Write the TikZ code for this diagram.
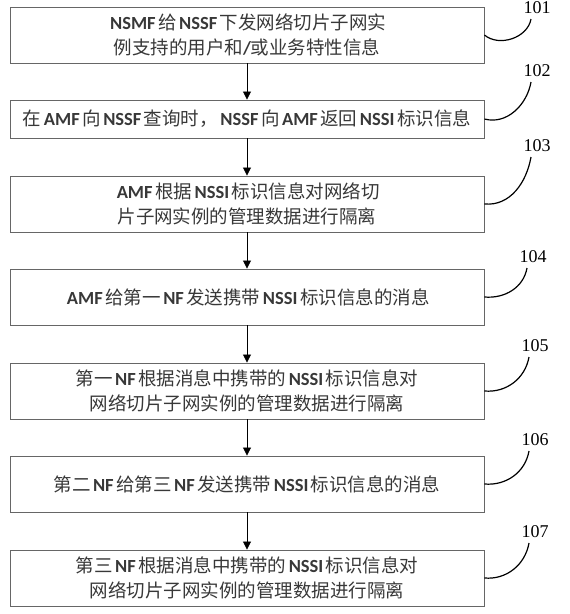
\documentclass[tikz,border=0pt]{standalone}
\usepackage{fontspec}
\setmainfont{Noto Sans CJK SC}
\newfontfamily\latinfont{Carlito}
\newfontfamily\numfont{Liberation Serif}
\usetikzlibrary{arrows.meta}
\newcommand{\en}[1]{\kern2.5pt{\latinfont\bfseries #1}\kern2.5pt}

\begin{document}
\begin{tikzpicture}[x=1pt, y=-1pt,
    blk/.style={draw=black!60, line width=0.9pt, minimum width=474pt,
      minimum height=56pt, inner sep=0pt, align=center, text=black!78,
      font=\fontsize{18.5}{25}\selectfont},
    num/.style={inner sep=0pt, anchor=south, font=\numfont\fontsize{18}{18}\selectfont},
    flow/.style={-{Triangle[width=8pt,length=8pt]}, line width=0.8pt},
    leader/.style={line width=1.2pt}]
    \useasboundingbox (0,0) rectangle (570,614);

    \node[blk] (s1) at (247,35) {\en{NSMF}给\en{NSSF}下发网络切片子网实\\
      例支持的用户和{\latinfont\bfseries/}或业务特性信息};
    \node[blk, minimum height=38pt] (s2) at (247,119)
      {在\en{AMF}向\en{NSSF}查询时，\en{NSSF}向\en{AMF}返回\en{NSSI}标识信息};
    \node[blk] (s3) at (247,204) {\en{AMF}根据\en{NSSI}标识信息对网络切\\
      片子网实例的管理数据进行隔离};
    \node[blk] (s4) at (247,297) {\en{AMF}给第一\en{NF}发送携带\en{NSSI}标识信息的消息};
    \node[blk] (s5) at (247,391) {第一\en{NF}根据消息中携带的\en{NSSI}标识信息对\\
      网络切片子网实例的管理数据进行隔离};
    \node[blk] (s6) at (247,484) {第二\en{NF}给第三\en{NF}发送携带\en{NSSI}标识信息的消息};
    \node[blk] (s7) at (247,578) {第三\en{NF}根据消息中携带的\en{NSSI}标识信息对\\
      网络切片子网实例的管理数据进行隔离};

    \foreach \a/\b in {1/2,2/3,3/4,4/5,5/6,6/7}
      \draw[flow] (s\a) -- (s\b);

    \foreach \i/\x/\y/\o in {1/537/14/-40, 2/537/77/-15, 3/537/152/-5,
      4/533/263/-5, 5/535/352/-5, 6/535/446/-5, 7/535/538/-5}
    {
      \node[num] (n\i) at (\x,\y) {10\i};
      \draw[leader] (s\i.east) to[out=\o, in=-100] ([xshift=-6pt, yshift=-5pt]n\i.south);
    }
\end{tikzpicture}
\end{document}
